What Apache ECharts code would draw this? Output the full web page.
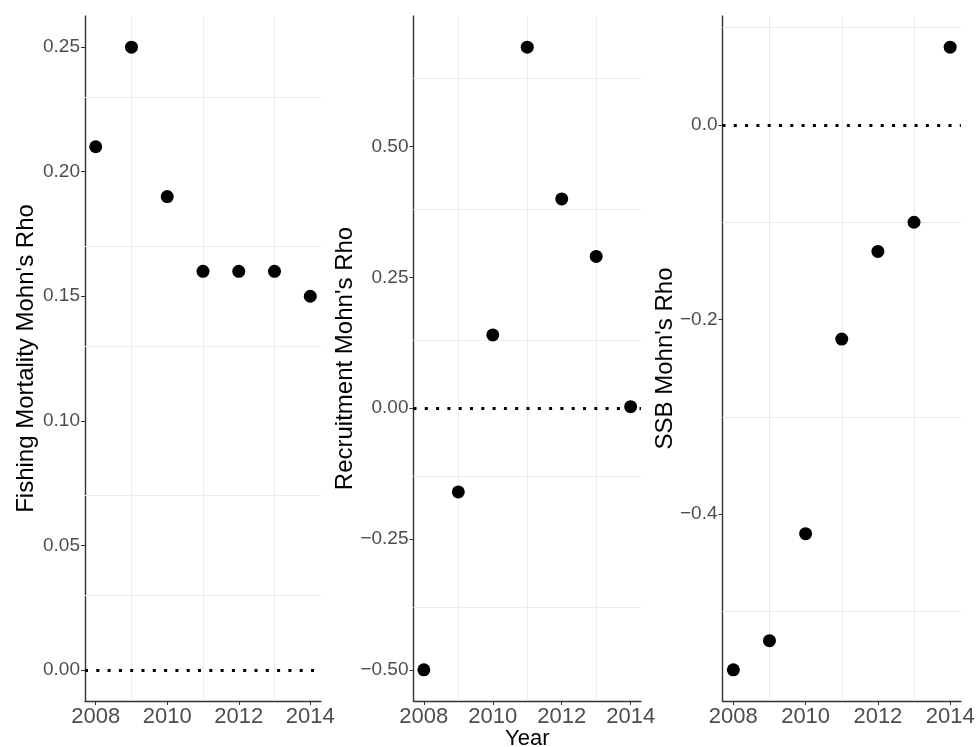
<!DOCTYPE html>
<html>
<head>
<meta charset="utf-8">
<title>Mohn's Rho by peel year</title>
<script src="https://cdn.jsdelivr.net/npm/echarts@6/dist/echarts.min.js"></script>
<style>
  html, body { margin: 0; padding: 0; background: #fff; }
  #chart { width: 977px; height: 747px; }
</style>
</head>
<body>
<div id="chart"></div>
<script>
// Retrospective peel years
const years = [2008, 2009, 2010, 2011, 2012, 2013, 2014];

// Mohn's rho per quantity
const fishingRho = [0.21, 0.25, 0.19, 0.16, 0.16, 0.16, 0.15];
const recruitRho = [-0.50, -0.16, 0.14, 0.69, 0.40, 0.29, 0.003];
const ssbRho = [-0.56, -0.53, -0.42, -0.22, -0.13, -0.10, 0.08];

// Axis ticks and light grid positions
const yearTicks = [2008, 2010, 2012, 2014];
const yearGrid = [2009, 2011, 2013];
const fishingTicks = [0, 0.05, 0.10, 0.15, 0.20, 0.25];
const fishingGrid = [0.025, 0.075, 0.125, 0.175, 0.225];
const recruitTicks = [-0.50, -0.25, 0, 0.25, 0.50];
const recruitGrid = [-0.375, -0.125, 0.125, 0.375, 0.625];
const ssbTicks = [-0.4, -0.2, 0];
const ssbGrid = [-0.5, -0.3, -0.1, 0.1];

const panels = [
  { title: "Fishing Mortality Mohn's Rho", values: fishingRho, ticks: fishingTicks, grid: fishingGrid, digits: 2,
    box: { left: 85, top: 16, width: 236, height: 685 }, nameGap: 47 },
  { title: "Recruitment Mohn's Rho", values: recruitRho, ticks: recruitTicks, grid: recruitGrid, digits: 2,
    box: { left: 413.5, top: 16, width: 227.5, height: 685 }, nameGap: 56 },
  { title: "SSB Mohn's Rho", values: ssbRho, ticks: ssbTicks, grid: ssbGrid, digits: 1,
    box: { left: 722.5, top: 16, width: 238.5, height: 685 }, nameGap: 45 }
];

const FONT = '"Liberation Sans", Arial, Helvetica, sans-serif';
const AXIS_COLOR = '#333333';
const TEXT_COLOR = '#4d4d4d';

// Continuous-scale padding: 5% of the data range (reference line at 0 included)
function expandRange(vals, mult) {
  const lo = Math.min(0, ...vals);
  const hi = Math.max(0, ...vals);
  const pad = (hi - lo) * mult;
  return [lo - pad, hi + pad];
}
const yearPad = (years[years.length - 1] - years[0]) * 0.05;

const option = {
  animation: false,
  backgroundColor: '#ffffff',
  textStyle: { fontFamily: FONT },
  grid: panels.map(p => Object.assign({ containLabel: false, outerBoundsMode: 'none' }, p.box)),
  xAxis: panels.map((p, i) => ({
    type: 'value',
    gridIndex: i,
    min: years[0] - yearPad,
    max: years[years.length - 1] + yearPad,
    axisLine: { show: true, onZero: false, lineStyle: { color: AXIS_COLOR, width: 1.4 } },
    axisTick: { show: true, length: 4, customValues: yearTicks, lineStyle: { color: AXIS_COLOR, width: 1 } },
    axisLabel: { customValues: yearTicks, margin: 5, fontSize: 22, color: TEXT_COLOR, fontFamily: FONT,
      formatter: v => String(Math.round(v)) },
    splitLine: { show: false },
    name: i === 1 ? 'Year' : '',
    nameLocation: 'middle',
    nameGap: 27,
    nameMoveOverlap: false,
    nameTextStyle: { fontSize: 22, color: '#000', fontFamily: FONT }
  })),
  yAxis: panels.map((p, i) => {
    const [lo, hi] = expandRange(p.values, 0.05);
    return {
      type: 'value',
      gridIndex: i,
      min: lo,
      max: hi,
      axisLine: { show: true, onZero: false, lineStyle: { color: AXIS_COLOR, width: 1.4 } },
      axisTick: { show: true, length: 4, customValues: p.ticks, lineStyle: { color: AXIS_COLOR, width: 1 } },
      axisLabel: { customValues: p.ticks, margin: 5, fontSize: 19, color: TEXT_COLOR, fontFamily: FONT,
        formatter: v => v.toFixed(p.digits).replace('-', '\u2212') },
      splitLine: { show: false },
      name: p.title,
      nameLocation: 'middle',
      nameRotate: 90,
      nameGap: p.nameGap,
      nameMoveOverlap: false,
      nameTextStyle: { fontSize: 24, color: '#000', fontFamily: FONT }
    };
  }),
  series: []
};

const gridLine = { color: '#ebebeb', width: 1, type: 'solid' };
panels.forEach((p, i) => {
  // Background: light grid lines and the dotted reference line at zero
  option.series.push({
    type: 'scatter',
    xAxisIndex: i,
    yAxisIndex: i,
    data: [],
    silent: true,
    z: 1,
    markLine: {
      silent: true,
      z: 1,
      symbol: 'none',
      label: { show: false },
      emphasis: { disabled: true },
      data: [
        ...yearGrid.map(v => ({ xAxis: v, lineStyle: gridLine })),
        ...p.grid.map(v => ({ yAxis: v, lineStyle: gridLine })),
        { yAxis: 0, lineStyle: { color: '#000', width: 3, type: [3, 8.3] } }
      ]
    }
  });
  // Points
  option.series.push({
    type: 'scatter',
    xAxisIndex: i,
    yAxisIndex: i,
    data: years.map((y, k) => [y, p.values[k]]),
    symbol: 'circle',
    symbolSize: 13,
    itemStyle: { color: '#000', opacity: 1 },
    z: 3
  });
});

const chart = echarts.init(document.getElementById('chart'), null, { renderer: 'canvas' });
chart.setOption(option);
</script>
</body>
</html>
